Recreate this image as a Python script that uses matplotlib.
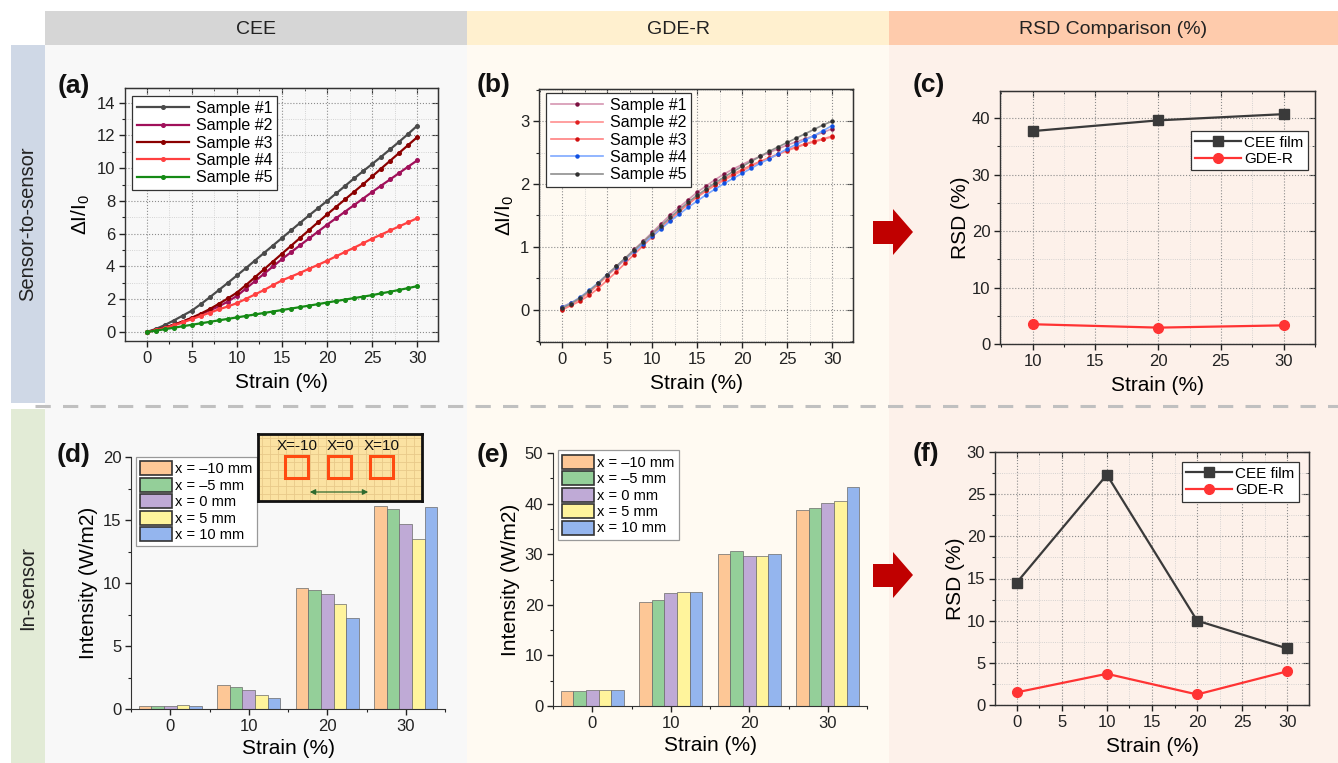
import numpy as np
import matplotlib
matplotlib.use("Agg")
import matplotlib.pyplot as plt
from matplotlib.ticker import MultipleLocator
from matplotlib.patches import Rectangle, Polygon

plt.rcParams['font.family'] = ['Liberation Sans', 'DejaVu Sans']
plt.rcParams['mathtext.default'] = 'regular'

W, H = 1338, 763

# ---------------- data ----------------
strain = list(range(31))

# (a) CEE sensor-to-sensor
cee_s1 = [0, 0.18, 0.42, 0.7, 1.0, 1.3, 1.7, 2.12, 2.56, 3.0, 3.45, 3.9, 4.36, 4.82, 5.28, 5.74,
          6.2, 6.66, 7.12, 7.56, 8.0, 8.46, 8.92, 9.38, 9.82, 10.26, 10.7, 11.16, 11.62, 12.1, 12.6]
cee_s2 = [0, 0.12, 0.27, 0.44, 0.63, 0.85, 1.08, 1.32, 1.56, 1.86, 2.2, 2.65, 3.1, 3.55, 4.0, 4.45,
          4.87, 5.29, 5.71, 6.13, 6.55, 6.95, 7.35, 7.75, 8.15, 8.55, 8.94, 9.32, 9.71, 10.1, 10.48]
cee_s3 = [0, 0.12, 0.27, 0.44, 0.64, 0.87, 1.12, 1.4, 1.72, 2.05, 2.4, 2.86, 3.34, 3.82, 4.3, 4.78,
          5.26, 5.74, 6.22, 6.7, 7.18, 7.64, 8.1, 8.56, 9.02, 9.5, 9.98, 10.46, 10.94, 11.42, 11.9]
cee_s4 = [0, 0.1, 0.24, 0.4, 0.58, 0.78, 0.98, 1.18, 1.38, 1.56, 1.76, 2.02, 2.29, 2.56, 2.86, 3.15,
          3.38, 3.61, 3.86, 4.1, 4.35, 4.62, 4.89, 5.15, 5.42, 5.7, 5.95, 6.2, 6.45, 6.7, 6.95]
cee_s5 = [0, 0.08, 0.17, 0.26, 0.35, 0.44, 0.53, 0.62, 0.71, 0.8, 0.89, 0.98, 1.07, 1.16, 1.25, 1.34,
          1.43, 1.52, 1.61, 1.7, 1.8, 1.89, 1.98, 2.07, 2.16, 2.25, 2.36, 2.46, 2.57, 2.68, 2.8]

# (b) GDE-R sensor-to-sensor
gde_s1 = [0.05, 0.11, 0.19, 0.29, 0.42, 0.56, 0.69, 0.82, 0.96, 1.09, 1.23, 1.37, 1.51, 1.63, 1.75, 1.87,
          1.97, 2.07, 2.16, 2.24, 2.31, 2.38, 2.44, 2.50, 2.56, 2.62, 2.67, 2.72, 2.77, 2.82, 2.88]
gde_s2 = [0.02, 0.09, 0.17, 0.27, 0.40, 0.54, 0.67, 0.80, 0.93, 1.06, 1.19, 1.32, 1.45, 1.57, 1.68, 1.79,
          1.89, 1.98, 2.06, 2.14, 2.21, 2.28, 2.35, 2.41, 2.47, 2.53, 2.58, 2.63, 2.67, 2.71, 2.75]
gde_s3 = [0.00, 0.07, 0.14, 0.23, 0.34, 0.47, 0.60, 0.74, 0.88, 1.02, 1.16, 1.30, 1.43, 1.56, 1.68, 1.80,
          1.90, 1.99, 2.08, 2.16, 2.23, 2.30, 2.36, 2.42, 2.48, 2.54, 2.59, 2.64, 2.68, 2.72, 2.76]
gde_s4 = [0.04, 0.11, 0.20, 0.31, 0.43, 0.56, 0.68, 0.81, 0.93, 1.05, 1.17, 1.29, 1.41, 1.52, 1.63, 1.73,
          1.83, 1.92, 2.01, 2.09, 2.17, 2.25, 2.33, 2.40, 2.48, 2.56, 2.63, 2.70, 2.77, 2.85, 2.93]
gde_s5 = [0.03, 0.10, 0.19, 0.30, 0.42, 0.56, 0.69, 0.82, 0.95, 1.08, 1.21, 1.34, 1.47, 1.59, 1.71, 1.82,
          1.92, 2.02, 2.11, 2.20, 2.28, 2.36, 2.44, 2.52, 2.59, 2.66, 2.73, 2.80, 2.87, 2.94, 3.00]

sample_labels = ['Sample #1', 'Sample #2', 'Sample #3', 'Sample #4', 'Sample #5']

# (c) RSD sensor-to-sensor
rsd_strain_c = [10, 20, 30]
rsd_cee_c = [37.7, 39.6, 40.7]
rsd_gde_c = [3.5, 2.9, 3.3]

# (d)/(e) in-sensor intensity, groups by strain, bars by position
bar_strain = [0, 10, 20, 30]
pos_labels = ['x = \u201310 mm', 'x = \u20135 mm', 'x = 0 mm', 'x = 5 mm', 'x = 10 mm']
cee_int = [[0.25, 1.9, 9.6, 16.1],
           [0.2, 1.75, 9.45, 15.85],
           [0.25, 1.5, 9.1, 14.65],
           [0.3, 1.1, 8.35, 13.5],
           [0.25, 0.85, 7.2, 16.05]]
gde_int = [[3.0, 20.6, 30.0, 38.7],
           [3.0, 21.0, 30.6, 39.2],
           [3.2, 22.3, 29.7, 40.1],
           [3.2, 22.5, 29.7, 40.5],
           [3.2, 22.6, 30.0, 43.2]]

# (f) RSD in-sensor
rsd_strain_f = [0, 10, 20, 30]
rsd_cee_f = [14.5, 27.3, 10.0, 6.7]
rsd_gde_f = [1.5, 3.7, 1.25, 4.0]

bar_colors = ['#fdc796', '#94cf99', '#bfaad6', '#fff49c', '#94b5ee']

TICK = 12
LAB = 15


def px(l, t, r, b):
    return [l / W, 1 - b / H, (r - l) / W, (b - t) / H]


def origin_frame(ax, xmaj, xmin, ymaj, ymin):
    ax.set_facecolor('none')
    ax.xaxis.set_major_locator(MultipleLocator(xmaj))
    ax.xaxis.set_minor_locator(MultipleLocator(xmin))
    ax.yaxis.set_major_locator(MultipleLocator(ymaj))
    ax.yaxis.set_minor_locator(MultipleLocator(ymin))
    ax.tick_params(which='both', direction='out', labelsize=TICK, colors='#222', pad=3)
    ax.tick_params(which='major', length=4, width=1)
    ax.tick_params(which='minor', length=2.5, width=0.8)
    for s in ax.spines.values():
        s.set_color('#333')
        s.set_linewidth(1)
    ax.grid(which='major', ls=':', color='#8c8c8c', lw=0.8)
    ax.grid(which='minor', ls=':', color='#c8c8c8', lw=0.6)
    ax.set_axisbelow(True)
    top = ax.secondary_xaxis('top')
    top.xaxis.set_major_locator(MultipleLocator(xmaj))
    top.xaxis.set_minor_locator(MultipleLocator(xmin))
    top.tick_params(which='both', direction='in', labeltop=False, colors='#333')
    top.tick_params(which='major', length=4)
    top.tick_params(which='minor', length=2.5)
    right = ax.secondary_yaxis('right')
    right.yaxis.set_major_locator(MultipleLocator(ymaj))
    right.yaxis.set_minor_locator(MultipleLocator(ymin))
    right.tick_params(which='both', direction='in', labelright=False, colors='#333')
    right.tick_params(which='major', length=4)
    right.tick_params(which='minor', length=2.5)


def legend_style(ax, **kw):
    opts = dict(frameon=True, fancybox=False, framealpha=1, edgecolor='#333',
                fontsize=11.5, borderpad=0.3, labelspacing=0.15, handletextpad=0.4,
                borderaxespad=0)
    opts.update(kw)
    leg = ax.legend(**opts)
    leg.get_frame().set_linewidth(0.9)
    return leg


fig = plt.figure(figsize=(W / 100, H / 100), dpi=100)
fig.patch.set_facecolor('white')

# ---------------- background layout ----------------
bg = fig.add_axes([0, 0, 1, 1])
bg.set_xlim(0, W)
bg.set_ylim(H, 0)
bg.axis('off')
bg.add_patch(Rectangle((45, 45), 422, 718, color='#f8f8f8', lw=0))
bg.add_patch(Rectangle((467, 45), 422, 718, color='#fffaf2', lw=0))
bg.add_patch(Rectangle((889, 45), 449, 718, color='#fdf1ea', lw=0))
bg.add_patch(Rectangle((45, 11), 422, 34, color='#d6d6d6', lw=0))
bg.add_patch(Rectangle((467, 11), 422, 34, color='#fff0cf', lw=0))
bg.add_patch(Rectangle((889, 11), 449, 34, color='#fecbac', lw=0))
bg.add_patch(Rectangle((11, 45), 34, 358, color='#cfd8e6', lw=0))
bg.add_patch(Rectangle((11, 409), 34, 354, color='#e2ebd6', lw=0))
bg.plot([35, W], [406, 406], color='#c0c0c0', lw=2.2, dashes=(5, 4))
bg.text(256, 29, 'CEE', ha='center', va='center', fontsize=14, color='#222')
bg.text(678, 29, 'GDE-R', ha='center', va='center', fontsize=14, color='#222')
bg.text(1113, 29, 'RSD Comparison (%)', ha='center', va='center', fontsize=14, color='#222')
bg.text(28, 224, 'Sensor-to-sensor', rotation=90, ha='center', va='center', fontsize=14.5, color='#222')
bg.text(28, 588, 'In-sensor', rotation=90, ha='center', va='center', fontsize=14.5, color='#222')
for cy in (232, 575):
    bg.add_patch(Polygon([(873, cy - 11), (893, cy - 11), (893, cy - 23), (913, cy),
                          (893, cy + 23), (893, cy + 12), (873, cy + 12)],
                         closed=True, color='#c00000', lw=0))
for lab, x, y in [('(a)', 74, 86), ('(b)', 494, 85), ('(c)', 929, 85),
                  ('(d)', 74, 455), ('(e)', 493, 455), ('(f)', 926, 454)]:
    bg.text(x, y, lab, ha='center', va='center', fontsize=19, fontweight='bold', color='#111')

# ---------------- (a) ----------------
ax = fig.add_axes(px(125, 88, 438, 341))
a_cols = ['#4a4a4a', '#a0105a', '#8b0000', '#ff4040', '#158a15']
for ys, c, lab in zip([cee_s1, cee_s2, cee_s3, cee_s4, cee_s5], a_cols, sample_labels):
    ax.plot(strain, ys, color=c, lw=1.6, marker='o', ms=2.6, label=lab)
ax.set_xlim(-2.4, 32.3)
ax.set_ylim(-0.55, 14.9)
origin_frame(ax, 5, 2.5, 2, 1)
ax.set_xlabel('Strain (%)', fontsize=LAB, labelpad=5)
ax.set_ylabel('\u0394I/I$_0$', fontsize=LAB, labelpad=3)
legend_style(ax, loc='upper left', bbox_to_anchor=(0.022, 0.968), handlelength=3.3)

# ---------------- (b) ----------------
ax = fig.add_axes(px(539, 89, 853, 342))
b_lines = ['#d596b2', '#ff8f8f', '#ff8080', '#7fa9ff', '#8f8f8f']
b_marks = ['#7a1040', '#e02020', '#d01010', '#1050e0', '#303030']
for ys, c, m, lab in zip([gde_s1, gde_s2, gde_s3, gde_s4, gde_s5], b_lines, b_marks, sample_labels):
    ax.plot(strain, ys, color=c, lw=1.2, marker='o', ms=2.2, mfc=m, mec=m, label=lab)
ax.set_xlim(-2.56, 32.3)
ax.set_ylim(-0.51, 3.51)
origin_frame(ax, 5, 2.5, 1, 0.5)
ax.set_xlabel('Strain (%)', fontsize=LAB, labelpad=5)
ax.set_ylabel('\u0394I/I$_0$', fontsize=LAB, labelpad=3)
legend_style(ax, loc='upper left', bbox_to_anchor=(0.022, 0.984), handlelength=3.3)

# ---------------- (c) ----------------
ax = fig.add_axes(px(1000, 91, 1315, 344))
ax.plot(rsd_strain_c, rsd_cee_c, color='#3a3a3a', lw=1.6, marker='s', ms=7, label='CEE film')
ax.plot(rsd_strain_c, rsd_gde_c, color='#ff3333', lw=1.6, marker='o', ms=7, label='GDE-R')
ax.set_xlim(7.4, 32.5)
ax.set_ylim(0, 44.8)
origin_frame(ax, 5, 2.5, 10, 5)
ax.set_xlabel('Strain (%)', fontsize=LAB, labelpad=5)
ax.set_ylabel('RSD (%)', fontsize=LAB, labelpad=1)
legend_style(ax, loc='upper right', bbox_to_anchor=(0.978, 0.842), handlelength=3.0,
             fontsize=11, handletextpad=0.2)


# ---------------- (d) / (e) ----------------
def bar_panel(rect, data, ylim, ymaj, ymin, anchor):
    ax = fig.add_axes(rect)
    offs = [-3.2, -1.6, 0, 1.6, 3.2]
    for vals, off, c, lab in zip(data, offs, bar_colors, pos_labels):
        ax.bar([s + off for s in bar_strain], vals, width=1.6, color=c,
               edgecolor='#6a6a6a', lw=0.5, label=lab)
    ax.set_xlim(-5, 35)
    ax.set_ylim(*ylim)
    ax.set_facecolor('none')
    ax.set_xticks(bar_strain)
    ax.xaxis.set_minor_locator(MultipleLocator(10, offset=5))
    ax.yaxis.set_major_locator(MultipleLocator(ymaj))
    ax.yaxis.set_minor_locator(MultipleLocator(ymin))
    ax.tick_params(which='both', direction='out', labelsize=TICK, colors='#222', pad=3)
    ax.tick_params(which='major', length=4, width=1)
    ax.tick_params(which='minor', length=2.5, width=0.8)
    for k in ('top', 'right'):
        ax.spines[k].set_visible(False)
    for k in ('left', 'bottom'):
        ax.spines[k].set_color('#333')
    ax.set_xlabel('Strain (%)', fontsize=LAB, labelpad=4)
    ax.set_ylabel('Intensity (W/m2)', fontsize=LAB, labelpad=3)
    leg = legend_style(ax, loc='upper left', bbox_to_anchor=anchor, handlelength=2.2,
                       handleheight=1.1, labelspacing=0.1, handletextpad=0.2, fontsize=10.5)
    leg.get_frame().set_edgecolor('#999')
    for p in leg.get_patches():
        p.set_edgecolor('#333')
        p.set_linewidth(1.2)
    return ax


bar_panel(px(131, 457, 445, 709), cee_int, (0, 20), 5, 2.5, (0.016, 1.0))
bar_panel(px(553, 453, 867, 706), gde_int, (0, 50), 10, 5, (0.015, 1.01))

# inset sketch in (d)
ins = fig.add_axes(px(258, 434, 422, 501))
ins.set_xlim(0, 164)
ins.set_ylim(67, 0)
ins.set_facecolor('#fbe2a2')
for g in range(4, 164, 8):
    ins.axvline(g, color='#e9c98a', lw=0.6, zorder=1)
for g in range(4, 67, 8):
    ins.axhline(g, color='#e9c98a', lw=0.6, zorder=1)
ins.set_xticks([])
ins.set_yticks([])
for s in ins.spines.values():
    s.set_linewidth(2)
    s.set_color('#111')
for sx, txt, tx in [(27, 'X=-10', 39), (70, 'X=0', 82), (112, 'X=10', 124)]:
    ins.add_patch(Rectangle((sx, 22), 23, 22, fill=False, ec='#ff4a10', lw=2.2, zorder=3))
    ins.text(tx, 12, txt, ha='center', va='center', fontsize=11, color='#111', zorder=3)
ins.annotate('', xy=(113, 58), xytext=(49, 58),
             arrowprops=dict(arrowstyle='<|-|>', color='#2f6a2f', lw=0.9, mutation_scale=8))

# ---------------- (f) ----------------
ax = fig.add_axes(px(995, 452, 1309, 705))
ax.plot(rsd_strain_f, rsd_cee_f, color='#3a3a3a', lw=1.6, marker='s', ms=7, label='CEE film')
ax.plot(rsd_strain_f, rsd_gde_f, color='#ff3333', lw=1.6, marker='o', ms=7, label='GDE-R')
ax.set_xlim(-2.4, 32.4)
ax.set_ylim(0, 30)
origin_frame(ax, 5, 2.5, 5, 2.5)
ax.set_xlabel('Strain (%)', fontsize=LAB, labelpad=5)
ax.set_ylabel('RSD (%)', fontsize=LAB, labelpad=1)
legend_style(ax, loc='upper right', bbox_to_anchor=(0.968, 0.96), handlelength=3.0,
             fontsize=11, handletextpad=0.2)

fig.savefig('out.png', dpi=100)
